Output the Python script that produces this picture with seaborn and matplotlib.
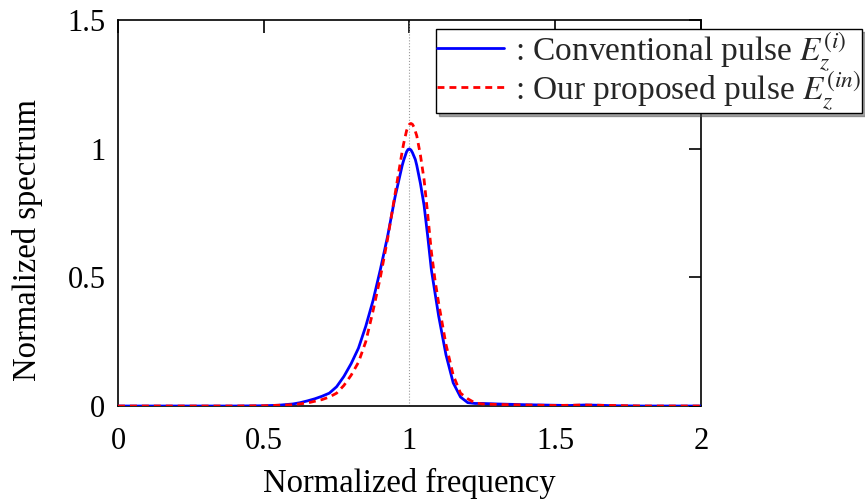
import numpy as np
import pandas as pd
import matplotlib
matplotlib.use("Agg")
import matplotlib.pyplot as plt
import seaborn as sns

# Spectrum samples (normalized frequency -> normalized spectrum)
freq_conv = [0.0, 0.2, 0.4, 0.5, 0.55, 0.6, 0.625, 0.65, 0.675, 0.7, 0.725, 0.75,
             0.775, 0.8, 0.825, 0.85, 0.875, 0.9, 0.925, 0.95, 0.975, 0.98, 0.99,
             0.995, 1.0, 1.005, 1.01, 1.02, 1.025, 1.0375, 1.05, 1.0625, 1.075,
             1.0875, 1.1, 1.125, 1.15, 1.175, 1.2, 1.225, 1.25,
             1.3, 1.4, 1.5, 1.55, 1.6, 1.65, 1.7, 1.8, 2.0]
spec_conv = [0.0, 0.0, 0.0, 0.001, 0.003, 0.008, 0.013, 0.02, 0.028, 0.038, 0.05, 0.075,
             0.115, 0.165, 0.225, 0.31, 0.41, 0.53, 0.66, 0.81, 0.935, 0.955, 0.988,
             0.997, 0.999, 0.995, 0.985, 0.958, 0.935, 0.865, 0.78, 0.66, 0.53,
             0.44, 0.35, 0.2, 0.09, 0.035, 0.013, 0.01, 0.01,
             0.008, 0.005, 0.003, 0.002, 0.004, 0.003, 0.001, 0.0, 0.0]

freq_prop = [0.0, 0.2, 0.4, 0.5, 0.6, 0.65, 0.7, 0.725, 0.75, 0.775, 0.8, 0.825,
             0.85, 0.875, 0.9, 0.925, 0.95, 0.975, 0.98, 0.99, 0.995, 1.0, 1.005,
             1.01, 1.015, 1.025, 1.0375, 1.05, 1.0625, 1.075, 1.0875, 1.1, 1.125,
             1.15, 1.175, 1.2, 1.225, 1.25, 1.3, 1.4, 1.5, 1.6,
             1.7, 1.8, 2.0]
spec_prop = [0.0, 0.0, 0.0, 0.001, 0.005, 0.012, 0.025, 0.035, 0.05, 0.08, 0.12, 0.17,
             0.25, 0.37, 0.5, 0.65, 0.82, 0.99, 1.02, 1.07, 1.085, 1.095, 1.098,
             1.095, 1.085, 1.05, 0.975, 0.88, 0.745, 0.6, 0.49, 0.4, 0.24,
             0.12, 0.05, 0.028, 0.012, 0.008, 0.006, 0.004, 0.002, 0.004,
             0.002, 0.0, 0.0]

x_ticks = [0, 0.5, 1, 1.5, 2]
x_ticklabels = ["0", "0.5", "1", "1.5", "2"]
y_ticks = [0, 0.5, 1, 1.5]
y_ticklabels = ["0", "0.5", "1", "1.5"]

label_conv = r": Conventional pulse $E_z^{(i)}$"
label_prop = r": Our proposed pulse $E_z^{(in)}$"

sns.set_theme(style="white")
plt.rcParams["font.family"] = ["Liberation Serif", "DejaVu Serif"]
plt.rcParams["mathtext.fontset"] = "stix"

df_conv = pd.DataFrame({"f": freq_conv, "s": spec_conv})
df_prop = pd.DataFrame({"f": freq_prop, "s": spec_prop})

fig = plt.figure(figsize=(8.65, 5.03), dpi=100)
ax = fig.add_axes([0.1364, 0.1928, 0.8104 - 0.1364, 0.9602 - 0.1928])

ax.axvline(1.0, color="#999999", lw=0.8, ls=":", zorder=1)
sns.lineplot(data=df_conv, x="f", y="s", ax=ax, color="#0000ff", lw=2.0,
             label=label_conv, zorder=3)
sns.lineplot(data=df_prop, x="f", y="s", ax=ax, color="#ff0000", lw=2.0,
             label=label_prop, zorder=4)
ax.lines[-1].set_dashes([2.5, 1.8])

ax.set_xlim(0, 2)
ax.set_ylim(0, 1.5)
ax.set_xticks(x_ticks)
ax.set_xticklabels(x_ticklabels)
ax.set_yticks(y_ticks)
ax.set_yticklabels(y_ticklabels)
ax.tick_params(direction="in", length=9, width=1.2, top=True, right=True,
               labelsize=22, colors="black")
ax.tick_params(axis="x", pad=15)
ax.tick_params(axis="y", pad=9)
for sp in ax.spines.values():
    sp.set_color("black")
    sp.set_linewidth(1.2)

ax.set_xlabel("Normalized frequency", fontsize=23.5, color="black", labelpad=9)
ax.set_ylabel("Normalized spectrum", fontsize=23.5, color="black")
ax.yaxis.set_label_coords(-0.129, 0.43)

leg = ax.legend(loc="upper right", bbox_to_anchor=(862 / 865, (503 - 29) / 503),
                bbox_transform=fig.transFigure, fontsize=24, frameon=True,
                fancybox=False, shadow=True, edgecolor="black", framealpha=1,
                borderpad=0.03, labelspacing=-0.1, handlelength=2.0,
                handletextpad=0.34, borderaxespad=0)
leg.get_frame().set_linewidth(1.0)
for h in leg.get_lines():
    h.set_linewidth(2.0)

fig.savefig("out.png", dpi=100)
